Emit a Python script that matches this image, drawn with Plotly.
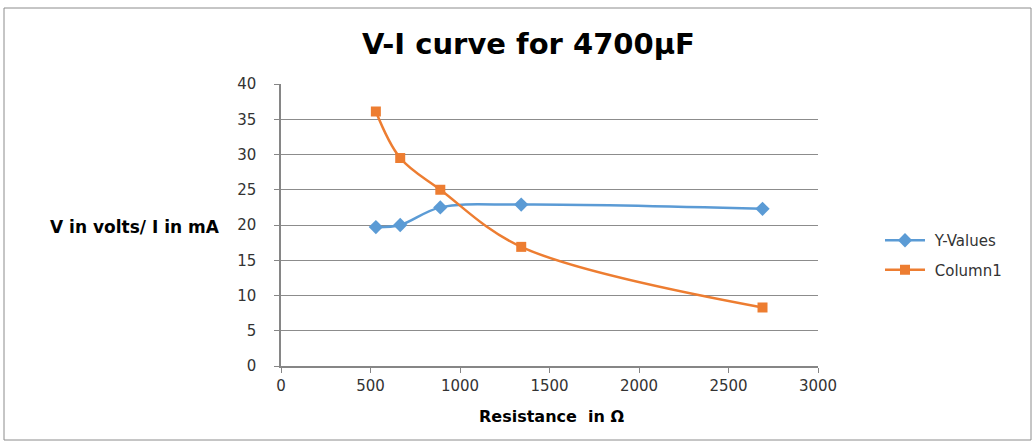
import plotly.graph_objects as go

resistance = [530, 666, 890, 1342, 2690]
y_values = [19.7, 20.0, 22.5, 22.9, 22.3]
column1 = [36.1, 29.5, 25.0, 16.9, 8.3]
x_ticks = [0, 500, 1000, 1500, 2000, 2500, 3000]
y_ticks = [0, 5, 10, 15, 20, 25, 30, 35, 40]

W, H = 1035, 445
L, R, T, B = 281, 1035 - 818, 84, 445 - 366
pw, ph = W - L - R, H - T - B

def px(x):
    return (x - L) / pw

def py(y):
    return (H - B - y) / ph

FONT = "DejaVu Sans, Arial, sans-serif"

fig = go.Figure()
fig.add_trace(go.Scatter(
    x=resistance, y=y_values, name=" Y-Values", mode="lines+markers", legendgroup="a",
    line=dict(color="#5B9BD5", width=2.5, shape="spline", smoothing=1),
    marker=dict(symbol="diamond", size=11, color="#5B9BD5"),
))
fig.add_trace(go.Scatter(
    x=resistance, y=column1, name=" Column1", mode="lines+markers", legendgroup="b",
    line=dict(color="#ED7D31", width=2.5, shape="spline", smoothing=1),
    marker=dict(symbol="square", size=10, color="#ED7D31"),
))

tickfont = dict(family=FONT, size=15, color="#333333")
fig.update_layout(
    width=W, height=H,
    margin=dict(l=L, r=R, t=T, b=B),
    paper_bgcolor="white", plot_bgcolor="white",
    showlegend=True,
    legend=dict(x=px(880), y=py(255), xanchor="left", yanchor="middle",
                font=dict(family=FONT, size=15, color="#333333"),
                itemwidth=40, tracegroupgap=7, bgcolor="rgba(0,0,0,0)"),
    xaxis=dict(range=[0, 3000], tickvals=x_ticks, ticktext=[str(v) for v in x_ticks],
               showgrid=False, zeroline=False, showline=True, linecolor="#868686", linewidth=1.5,
               ticks="outside", ticklen=5, tickcolor="#868686", tickfont=tickfont),
    yaxis=dict(range=[0, 40], tickvals=y_ticks, ticktext=[str(v) for v in y_ticks],
               showgrid=True, gridcolor="#8C8C8C", gridwidth=1, zeroline=False,
               showline=True, linecolor="#868686", linewidth=1.5,
               ticks="outside", ticklen=5, tickcolor="#868686", tickfont=tickfont,
               ticklabelstandoff=15),
    shapes=[dict(type="rect", xref="paper", yref="paper",
                 x0=px(4), x1=px(1031), y0=py(8), y1=py(440),
                 line=dict(color="#8C8C8C", width=1), fillcolor="rgba(0,0,0,0)", layer="below")],
    annotations=[
        dict(text="<b>V-I curve for 4700µF</b>", xref="paper", yref="paper",
             x=px(528), y=py(44), xanchor="center", yanchor="middle", showarrow=False,
             font=dict(family=FONT, size=29, color="black")),
        dict(text="<b>V in volts/ I in mA</b>", xref="paper", yref="paper",
             x=px(222), y=py(227), xanchor="right", yanchor="middle", showarrow=False,
             font=dict(family=FONT, size=17, color="black")),
        dict(text="<b>Resistance  in Ω</b>", xref="paper", yref="paper",
             x=px(551), y=py(416), xanchor="center", yanchor="middle", showarrow=False,
             font=dict(family=FONT, size=16, color="black")),
    ],
)

fig.write_html("out.html")
